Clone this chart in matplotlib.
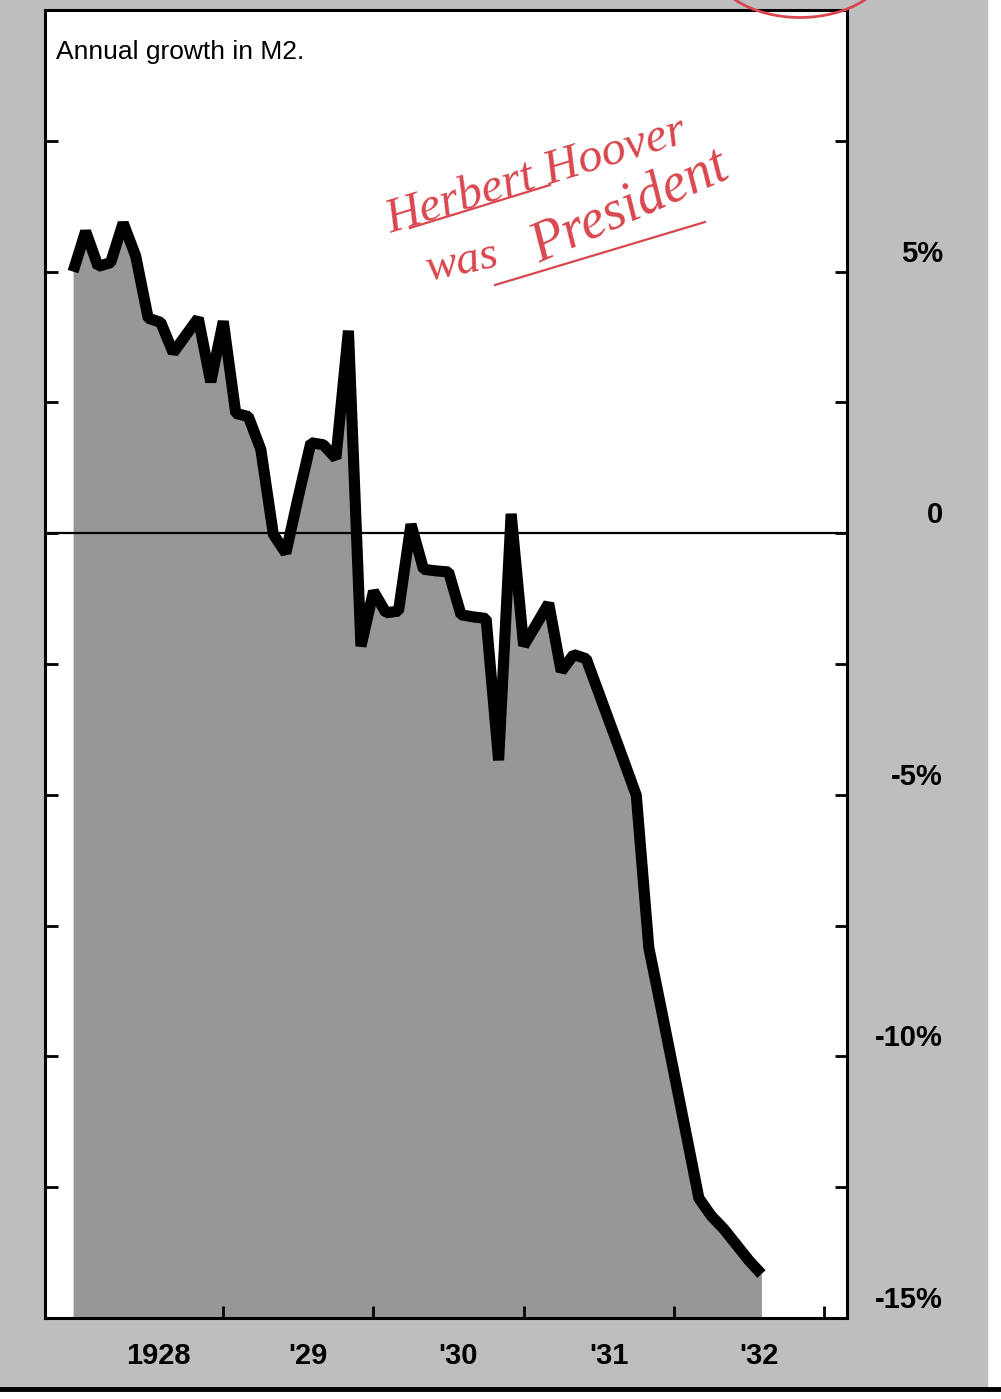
import numpy as np
import pandas as pd
import matplotlib
matplotlib.use("Agg")
import matplotlib.pyplot as plt
from matplotlib.patches import Rectangle, Arc
from matplotlib.lines import Line2D

# ---------------- data ----------------
first_month = "1928-01"
growth_pct = [5.0, 5.77, 5.10, 5.17, 5.93, 5.3, 4.11, 4.03, 3.45, 3.78,
              4.11, 2.89, 4.05, 2.29, 2.23, 1.6, -0.02, -0.38, 0.7, 1.73,
              1.69, 1.43, 3.87, -2.16, -1.11, -1.52, -1.49, 0.17, -0.69, -0.72,
              -0.74, -1.56, -1.60, -1.63, -4.34, 0.37, -2.15, -1.75, -1.34, -2.64,
              -2.32, -2.40, -3.05, -3.70, -4.35, -5.01, -7.92, -9.1, -10.3, -11.5,
              -12.71, -13.05, -13.3, -13.6, -13.9, -14.16]
year_ticks = [1929, 1930, 1931, 1932, 1933]
year_labels = ["1928", "'29", "'30", "'31", "'32"]
year_label_pos = [1928.5, 1929.5, 1930.5, 1931.5, 1932.5]
value_ticks = [-12.5, -10, -7.5, -5, -2.5, 0, 2.5, 5, 7.5]
value_labels = ["5%", "0", "-5%", "-10%", "-15%"]
value_label_pos = [5, 0, -5, -10, -15]
title = "Annual growth in M2."
note_line1 = "Herbert Hoover"
note_line2 = "was President"

months = pd.period_range(first_month, periods=len(growth_pct), freq="M")
x = np.asarray(months.year + (months.month - 1) / 12.0, dtype=float)

# ---------------- figure ----------------
W, H = 1001, 1399
def fx(px):
    return px / W
def fy(py):
    return 1 - py / H

fig = plt.figure(figsize=(W / 100, H / 100), dpi=100, facecolor="white")
fig.add_artist(Rectangle((0, fy(1388)), fx(987), 1 - fy(1388),
                         transform=fig.transFigure, color="#bebebe", zorder=0))
fig.add_artist(Line2D([0, 1], [fy(1389), fy(1389)], transform=fig.transFigure,
                      color="black", lw=3.5, zorder=1))

ax = fig.add_axes([fx(45), fy(1318), fx(847) - fx(45), fy(10) - fy(1318)])
ax.set_facecolor("white")
ax.fill_between(x, growth_pct, -15, color="#979797", lw=0, zorder=1)
ax.axhline(0, color="black", lw=1.6, zorder=2)
ax.plot(x, growth_pct, color="black", lw=8, solid_joinstyle="bevel",
        solid_capstyle="butt", zorder=3)
ax.set_xlim(1927.813, 1933.153)
ax.set_ylim(-15, 10)
for s in ax.spines.values():
    s.set_linewidth(2.2)
    s.set_color("black")
ax.set_xticks(year_ticks)
ax.set_yticks(value_ticks)
ax.tick_params(axis="x", direction="in", length=9, width=2, labelbottom=False)
ax.tick_params(axis="y", direction="in", length=9, width=2, left=True, right=True,
               labelleft=False, labelright=False)

lab_font = dict(family=["Liberation Sans", "DejaVu Sans"],
                weight="bold", size=21, color="black")
for lab, pos in zip(year_labels, year_label_pos):
    ax.annotate(lab, (pos, -15), xytext=(7, -27), textcoords="offset points",
                ha="center", va="center", annotation_clip=False, **lab_font)
for lab, val in zip(value_labels, value_label_pos):
    ax.annotate(lab, (1933.153, val), xytext=(69, 13), textcoords="offset points",
                ha="right", va="center", annotation_clip=False, **lab_font)

fig.text(fx(56), fy(52), title, ha="left", va="center",
         family=["Liberation Sans", "DejaVu Sans"], size=19, color="black")

# handwritten note
red = "#d9464e"
hand = dict(family=["Liberation Serif", "DejaVu Serif"], style="italic", color=red)
fig.text(fx(536), fy(176), note_line1, rotation=17, ha="center", va="center",
         size=35, **hand)
w1, w2 = note_line2.split()
fig.text(fx(462), fy(262), w1, rotation=12, ha="center", va="center",
         size=34, **hand)
fig.text(fx(630), fy(207), w2, rotation=24, ha="center", va="center",
         size=40, **hand)
fig.add_artist(Line2D([fx(410), fx(550)], [fy(228), fy(185)], transform=fig.transFigure,
                      color=red, lw=1.6))
fig.add_artist(Line2D([fx(495), fx(705)], [fy(285), fy(222)], transform=fig.transFigure,
                      color=red, lw=1.6))
fig.add_artist(Arc((fx(800), fy(-40)), fx(180), 115 / H, theta1=180, theta2=360,
                   transform=fig.transFigure, color=red, lw=2))

fig.savefig("out.png", dpi=100, facecolor="white")
